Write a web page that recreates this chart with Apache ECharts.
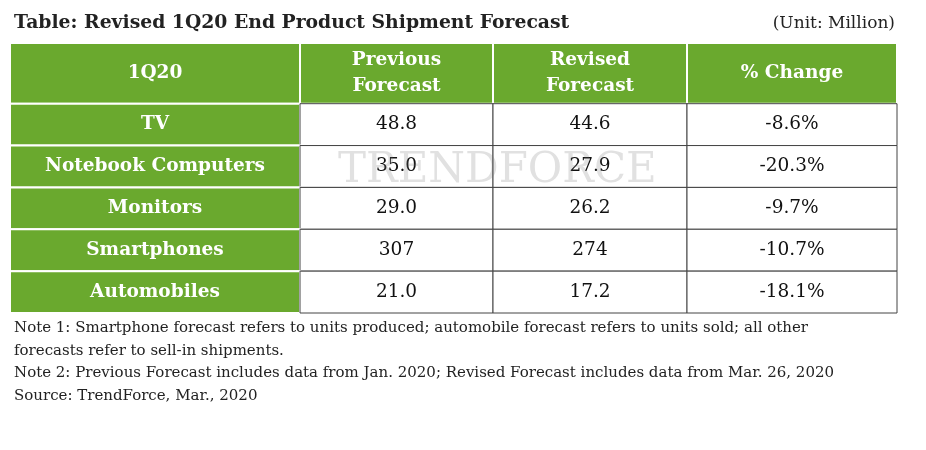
<!DOCTYPE html>
<html><head><meta charset="utf-8">
<script src="https://cdn.jsdelivr.net/npm/echarts@6/dist/echarts.min.js"></script>
<style>html,body{margin:0;background:#fff}#c{width:926px;height:450px}</style>
</head><body><div id="c"></div>
<script>
const headers = ['1Q20', 'Previous\nForecast', 'Revised\nForecast', '% Change']
const products = ['TV', 'Notebook Computers', 'Monitors', 'Smartphones', 'Automobiles']
const previous = ['48.8', '35.0', '29.0', '307', '21.0']
const revised = ['44.6', '27.9', '26.2', '274', '17.2']
const change = ['-8.6%', '-20.3%', '-9.7%', '-10.7%', '-18.1%']
const notes = [
  'Note 1: Smartphone forecast refers to units produced; automobile forecast refers to units sold; all other',
  'forecasts refer to sell-in shipments.',
  'Note 2: Previous Forecast includes data from Jan. 2020; Revised Forecast includes data from Mar. 26, 2020',
  'Source: TrendForce, Mar., 2020'
]

const GREEN = '#6aa92e'
const FONT = 'DejaVu Serif, serif'
const colW = [290, 193, 194, 210]
const headW = 1.45

const cells = []
headers.forEach((h, c) => cells.push([c, 0, h]))
products.forEach((p, r) => {
  cells.push([0, r + 1, p])
  cells.push([1, r + 1, previous[r]])
  cells.push([2, r + 1, revised[r]])
  cells.push([3, r + 1, change[r]])
})

const chart = echarts.init(document.getElementById('c'))
chart.setOption({
  animation: false,
  grid: { left: 10, right: 29, top: 43, bottom: 137 },
  xAxis: { type: 'category', data: headers, show: false },
  yAxis: { type: 'category', data: ['h'].concat(products), inverse: true, show: false },
  graphic: [
    { type: 'text', left: 14, top: 14, style: { text: 'Table: Revised 1Q20 End Product Shipment Forecast', font: 'bold 18.8px ' + FONT, fill: '#222' } },
    { type: 'text', right: 31, top: 15, style: { text: '(Unit: Million)', font: '17px ' + FONT, fill: '#222' } },
    { type: 'text', left: 338, top: 150, z: 10, style: { text: 'TRENDFORCE', font: '42px ' + FONT, fill: 'rgba(120,120,120,0.22)' } },
    { type: 'text', left: 14, top: 317, style: { text: notes.join('\n'), font: '15px ' + FONT, lineHeight: 22.5, fill: '#222' } }
  ],
  series: [{
    type: 'custom',
    data: cells,
    renderItem(params, api) {
      const cs = params.coordSys
      const c = api.value(0), r = api.value(1)
      const totW = colW.reduce((a, b) => a + b, 0)
      const unit = cs.height / (headW + products.length)
      let x = cs.x
      for (let i = 0; i < c; i++) x += colW[i] / totW * cs.width
      const w = colW[c] / totW * cs.width
      const y = r === 0 ? cs.y : cs.y + (headW + r - 1) * unit
      const h = r === 0 ? headW * unit : unit
      const green = r === 0 || c === 0
      const txt = cells[params.dataIndex][2]
      return {
        type: 'group',
        children: [
          { type: 'rect', shape: { x, y, width: w, height: h },
            style: { fill: green ? GREEN : '#fff', stroke: green ? '#fff' : '#444', lineWidth: green ? 2 : 1 } },
          { type: 'text', style: { text: txt, x: x + w / 2, y: y + h / 2, align: 'center', verticalAlign: 'middle',
            font: (green ? 'bold 18.5px ' : '18.5px ') + FONT, lineHeight: 26, fill: green ? '#fff' : '#111' } }
        ]
      }
    }
  }]
})
</script></body></html>
